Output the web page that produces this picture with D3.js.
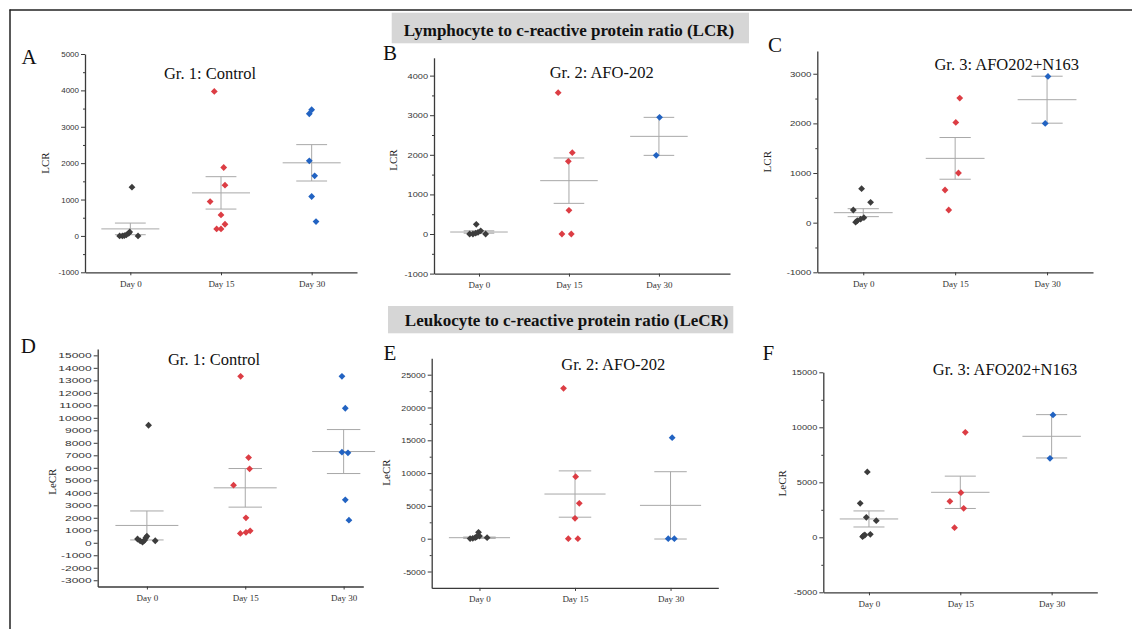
<!DOCTYPE html>
<html>
<head>
<meta charset="utf-8">
<script src="https://cdn.jsdelivr.net/npm/d3@7"></script>
<style>
  html, body { margin: 0; padding: 0; background: #fff; }
  svg { display: block; }
</style>
</head>
<body>
<script>
// ---------------- DATA ----------------
const categories = ["Day 0", "Day 15", "Day 30"];

// Panel A – LCR, Gr. 1: Control
const lcrControl = [
  [1340, 0, 0, 10, 30, 70, 110, 0],
  [3972, 1881, 1394, 945, 578, 321, 193, 193],
  [3468, 3358, 2064, 1651, 1083, 394]
];
const lcrControlJitter = [
  [0.018, -0.118, -0.088, -0.066, -0.044, -0.018, -0.007, 0.085],
  [-0.074, 0.03, 0.044, -0.12, 0, 0.044, 0, -0.048],
  [0, -0.026, -0.026, 0.033, 0, 0.048]
];
const lcrControlMean = [193, 1183, 2009];
const lcrControlSE = [160, 445, 500];

// Panel B – LCR, Gr. 2: AFO-202
const lcrAfo = [
  [244, 0, 0, 20, 40, 80, 0],
  [3569, 2054, 1835, 598, 0, 0],
  [2946, 1987]
];
const lcrAfoJitter = [
  [-0.03, -0.104, -0.067, -0.037, -0.011, 0.019, 0.074],
  [-0.12, 0.037, -0.007, 0, -0.078, 0.026],
  [0.007, -0.03]
];
const lcrAfoMean = [50, 1347, 2466];
const lcrAfoSE = [30, 573, 480];

// Panel C – LCR, Gr. 3: AFO202+N163
const lcrAfoN = [
  [685, 409, 255, 100, 70, 40, 10],
  [2510, 2020, 1000, 658, 255],
  [2946, 2000]
];
const lcrAfoNJitter = [
  [-0.018, 0.08, -0.108, 0.007, -0.029, -0.065, -0.083],
  [0.05, 0.007, 0.036, -0.11, -0.07],
  [0.01, -0.02]
];
const lcrAfoNMean = [201, 1295, 2477];
const lcrAfoNSE = [80, 420, 473];

// Panel D – LeCR, Gr. 1: Control
const lecrControl = [
  [9406, 160, 300, 150, 50, 200, 400, 520],
  [13323, 6821, 5915, 4610, 1998, 746, 826, 959],
  [13323, 10765, 7248, 7195, 3437, 1812]
];
const lecrControlJitter = [
  [0.017, 0.085, -0.095, -0.068, -0.044, -0.024, -0.01, 0.0],
  [-0.047, 0.034, 0.044, -0.119, 0.007, -0.05, 0.007, 0.05],
  [-0.017, 0.017, -0.017, 0.044, 0.017, 0.054]
];
const lecrControlMean = [1386, 4397, 7301];
const lecrControlSE = [1160, 1545, 1760];

// Panel E – LeCR, Gr. 2: AFO-202
const lecrAfo = [
  [965, 150, 20, 60, 150, 300, 400],
  [22917, 9451, 5386, 3100, 0, 0],
  [15396, 0, 0]
];
const lecrAfoJitter = [
  [-0.01, 0.08, -0.098, -0.07, -0.045, -0.03, 0.0],
  [-0.12, 0.007, 0.045, 0, -0.07, 0.03],
  [0.017, -0.024, 0.04]
];
const lecrAfoMean = [152, 6809, 5081];
const lecrAfoSE = [100, 3530, 5130];

// Panel F – LeCR, Gr. 3: AFO202+N163
const lecrAfoN = [
  [5939, 3091, 1818, 1515, 273, 60, 150, 210],
  [9545, 4061, 3273, 2636, 879],
  [11121, 7182]
];
const lecrAfoNJitter = [
  [-0.018, -0.096, -0.029, 0.08, 0.015, -0.07, -0.06, -0.045],
  [0.055, 0.007, -0.114, 0.037, -0.063],
  [0.015, -0.018]
];
const lecrAfoNMean = [1667, 4091, 9182];
const lecrAfoNSE = [730, 1470, 1970];

// Tick labels
const ticksA = [-1000, 0, 1000, 2000, 3000, 4000, 5000];
const ticksB = [-1000, 0, 1000, 2000, 3000, 4000];
const ticksC = [-1000, 0, 1000, 2000, 3000];
const ticksD = [-3000, -2000, -1000, 0, 1000, 2000, 3000, 4000, 5000, 6000, 7000, 8000,
                9000, 10000, 11000, 12000, 13000, 14000, 15000];
const ticksE = [-5000, 0, 5000, 10000, 15000, 20000, 25000];
const ticksF = [-5000, 0, 5000, 10000, 15000];

const headerLCR = "Lymphocyte to c-reactive protein ratio (LCR)";
const headerLeCR = "Leukocyte to c-reactive protein ratio (LeCR)";

// ---------------- LAYOUT ----------------
const panels = [
  { letter: "A", title: "Gr. 1: Control", ylab: "LCR", data: lcrControl, jit: lcrControlJitter,
    mean: lcrControlMean, se: lcrControlSE, ticks: ticksA, minorStep: 500,
    yDomain: [-1000, 5000], xDomain: [0.5, 3.5], x0: 85, x1: 357, yB: 272.3, yT: 54,
    letterPos: [29, 64], titlePos: [210, 78.5], ylabPos: [45, 163], sx: 1.0 },
  { letter: "B", title: "Gr. 2: AFO-202", ylab: "LCR", data: lcrAfo, jit: lcrAfoJitter,
    mean: lcrAfoMean, se: lcrAfoSE, ticks: ticksB, minorStep: 500,
    yDomain: [-1000, 4450], xDomain: [0.5, 3.79], x0: 434, x1: 730, yB: 273.6, yT: 57.8,
    letterPos: [390, 60], titlePos: [601.7, 78.3], ylabPos: [392.7, 160], sx: 1.15 },
  { letter: "C", title: "Gr. 3: AFO202+N163", ylab: "LCR", data: lcrAfoN, jit: lcrAfoNJitter,
    mean: lcrAfoNMean, se: lcrAfoNSE, ticks: ticksC, minorStep: 500,
    yDomain: [-1000, 3460], xDomain: [0.5, 3.5], x0: 817.3, x1: 1093, yB: 272.3, yT: 50.9,
    letterPos: [775, 51.6], titlePos: [1006.7, 70], ylabPos: [766.7, 161.7], sx: 1.2 },
  { letter: "D", title: "Gr. 1: Control", ylab: "LeCR", data: lecrControl, jit: lecrControlJitter,
    mean: lecrControlMean, se: lecrControlSE, ticks: ticksD, minorStep: 0,
    yDomain: [-3500, 15500], xDomain: [0.5, 3.2], x0: 97.7, x1: 363.3, yB: 586.5, yT: 349.1,
    letterPos: [28.3, 353], titlePos: [214, 365], ylabPos: [51.7, 481.7], sx: 1.5 },
  { letter: "E", title: "Gr. 2: AFO-202", ylab: "LeCR", data: lecrAfo, jit: lecrAfoJitter,
    mean: lecrAfoMean, se: lecrAfoSE, ticks: ticksE, minorStep: 2500,
    yDomain: [-7500, 27500], xDomain: [0.5, 3.5], x0: 431.7, x1: 718.3, yB: 587.9, yT: 358.3,
    letterPos: [390, 359.6], titlePos: [613.3, 370], ylabPos: [386, 472.5], sx: 1.1 },
  { letter: "F", title: "Gr. 3: AFO202+N163", ylab: "LeCR", data: lecrAfoN, jit: lecrAfoNJitter,
    mean: lecrAfoNMean, se: lecrAfoNSE, ticks: ticksF, minorStep: 2500,
    yDomain: [-5000, 15000], xDomain: [0.5, 3.5], x0: 823.3, x1: 1097.3, yB: 592.3, yT: 372.3,
    letterPos: [768.3, 360], titlePos: [1005, 375], ylabPos: [781.7, 483.3], sx: 1.15 }
];

const colors = ["#3c3c3c", "#dc3d44", "#2263c2"];
const axisColor = "#3a3a3a";
const seColor = "#a8a8a8";
const serif = "Liberation Serif, Times New Roman, serif";
const sans = "Liberation Sans, Arial, sans-serif";

const W = 1132, H = 629;
const svg = d3.select("body").append("svg").attr("width", W).attr("height", H);
svg.append("rect").attr("width", W).attr("height", H).attr("fill", "#fff");

// frame
svg.append("line").attr("x1", 9.5).attr("x2", W).attr("y1", 10).attr("y2", 10)
  .attr("stroke", "#222").attr("stroke-width", 1.5);
svg.append("line").attr("x1", 10).attr("x2", 10).attr("y1", 9.5).attr("y2", H)
  .attr("stroke", "#222").attr("stroke-width", 1.5);

// headers
function header(text, x0, x1, y0, y1, tx, ty) {
  svg.append("rect").attr("x", x0).attr("y", y0).attr("width", x1 - x0).attr("height", y1 - y0)
    .attr("fill", "#d6d6d6");
  svg.append("text").attr("x", tx).attr("y", ty).attr("text-anchor", "middle")
    .attr("font-family", serif).attr("font-weight", "bold").attr("font-size", 17)
    .attr("fill", "#111").text(text);
}
header(headerLCR, 391.7, 749, 12.7, 43.3, 569, 35.5);
header(headerLeCR, 388, 733.3, 306, 333.3, 566.7, 325.5);

const diamond = r => `M0,${-r}L${r},0L0,${r}L${-r},0Z`;

panels.forEach(p => {
  const x = d3.scaleLinear().domain(p.xDomain).range([p.x0, p.x1]);
  const y = d3.scaleLinear().domain(p.yDomain).range([p.yB, p.yT]);
  const g = svg.append("g");

  // minor ticks
  if (p.minorStep) {
    const minor = d3.range(p.ticks[0] + p.minorStep, p.yDomain[1], p.minorStep * 2)
      .filter(v => v > p.yDomain[0] && v < p.yDomain[1]);
    g.append("g").attr("transform", `translate(${p.x0},0)`)
      .call(d3.axisLeft(y).tickValues(minor).tickSize(2).tickSizeOuter(0).tickFormat(""))
      .call(a => a.select(".domain").remove())
      .call(a => a.selectAll("line").attr("stroke", axisColor));
  }

  // y axis
  const ya = g.append("g").attr("transform", `translate(${p.x0},0)`)
    .call(d3.axisLeft(y).tickValues(p.ticks).tickSize(4).tickSizeOuter(0).tickFormat(d => String(d)));
  ya.select(".domain").attr("stroke", axisColor).attr("stroke-width", 1.3);
  ya.selectAll(".tick line").attr("stroke", axisColor);
  ya.selectAll(".tick text")
    .attr("font-family", sans).attr("font-size", 8).attr("fill", "#333")
    .attr("x", -6 / p.sx).attr("transform", `scale(${p.sx},1)`);

  // x axis
  const xa = g.append("g").attr("transform", `translate(0,${p.yB})`)
    .call(d3.axisBottom(x).tickValues([1, 2, 3]).tickSize(3).tickSizeOuter(0)
      .tickFormat((d, i) => categories[i]));
  xa.select(".domain").attr("stroke", axisColor).attr("stroke-width", 1.3);
  xa.selectAll(".tick line").attr("stroke", axisColor);
  xa.selectAll(".tick text").attr("font-family", serif).attr("font-size", 9)
    .attr("fill", "#333").attr("y", 8);

  // mean & SE
  p.mean.forEach((m, i) => {
    const c = i + 1;
    const lg = g.append("g").attr("stroke", seColor).attr("stroke-width", 1).attr("fill", "none");
    lg.append("line").attr("x1", x(c - 0.32)).attr("x2", x(c + 0.32)).attr("y1", y(m)).attr("y2", y(m));
    lg.append("line").attr("x1", x(c - 0.17)).attr("x2", x(c + 0.17))
      .attr("y1", y(m + p.se[i])).attr("y2", y(m + p.se[i]));
    lg.append("line").attr("x1", x(c - 0.17)).attr("x2", x(c + 0.17))
      .attr("y1", y(m - p.se[i])).attr("y2", y(m - p.se[i]));
    lg.append("line").attr("x1", x(c)).attr("x2", x(c))
      .attr("y1", y(m + p.se[i])).attr("y2", y(m - p.se[i]));
  });

  // points
  p.data.forEach((vals, i) => {
    g.append("g").selectAll("path").data(vals).join("path")
      .attr("d", diamond(3.4))
      .attr("fill", colors[i])
      .attr("transform", (v, j) => `translate(${x(i + 1 + p.jit[i][j])},${y(v)})`);
  });

  // texts
  svg.append("text").attr("x", p.letterPos[0]).attr("y", p.letterPos[1]).attr("text-anchor", "middle")
    .attr("font-family", serif).attr("font-size", 21).attr("fill", "#111").text(p.letter);
  svg.append("text").attr("x", p.titlePos[0]).attr("y", p.titlePos[1]).attr("text-anchor", "middle")
    .attr("font-family", serif).attr("font-size", 16.5).attr("fill", "#111").text(p.title);
  svg.append("text").attr("transform", `translate(${p.ylabPos[0]},${p.ylabPos[1]}) rotate(-90)`)
    .attr("text-anchor", "middle").attr("dy", "0.35em")
    .attr("font-family", serif).attr("font-size", 11).attr("fill", "#222").text(p.ylab);
});
</script>
</body>
</html>
